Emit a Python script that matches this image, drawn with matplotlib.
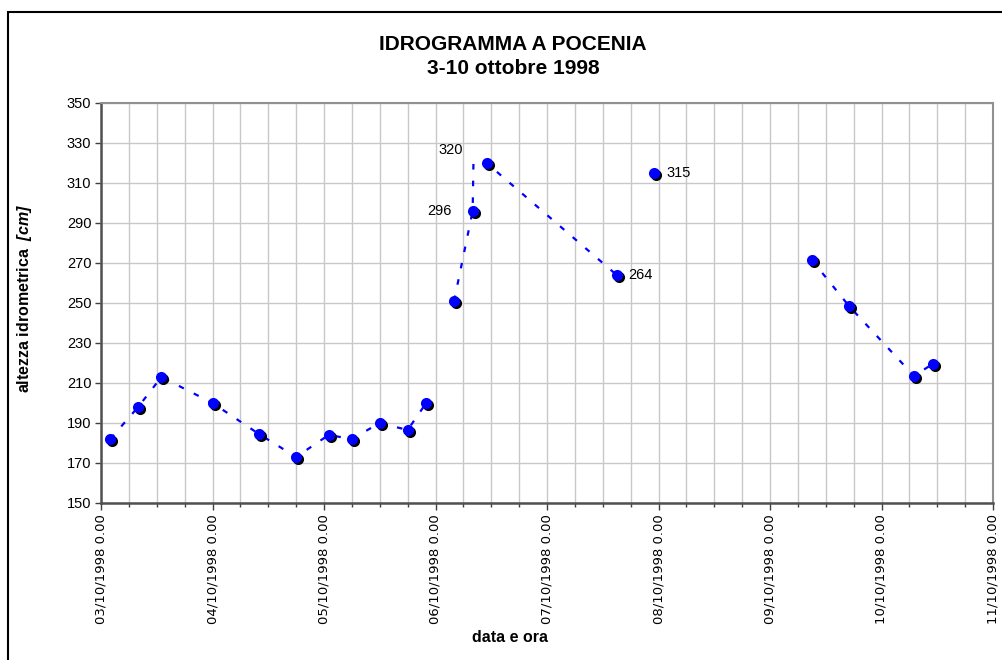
import datetime as dt
import matplotlib
matplotlib.use('Agg')
import matplotlib.pyplot as plt
import matplotlib.dates as mdates
import matplotlib.transforms as mtransforms
from matplotlib.patches import Rectangle

# letture idrometriche (data e ora, altezza in cm)
ore = ['03/10/1998 02:00', '03/10/1998 08:00', '03/10/1998 13:00', '04/10/1998 00:00',
       '04/10/1998 10:00', '04/10/1998 18:00', '05/10/1998 01:00', '05/10/1998 06:00',
       '05/10/1998 12:00', '05/10/1998 18:00', '05/10/1998 22:00', '06/10/1998 04:00',
       '06/10/1998 08:00', '06/10/1998 11:00', '07/10/1998 15:00', '07/10/1998 23:00',
       '09/10/1998 09:00', '09/10/1998 17:00', '10/10/1998 07:00', '10/10/1998 11:00']
livelli = [182, 198, 213, 200, 184.5, 173, 184, 182, 190, 186.5, 200, 251,
           296, 320, 264, 315, 271.5, 248.5, 213.5, 219.5]

# linea tratteggiata (None = interruzione)
linea_ore = ['03/10/1998 02:00', '03/10/1998 08:00', '03/10/1998 13:00', '04/10/1998 00:00',
             '04/10/1998 10:00', '04/10/1998 18:00', '05/10/1998 01:00', '05/10/1998 06:00',
             '05/10/1998 12:00', '05/10/1998 18:00', '05/10/1998 22:00', None,
             '06/10/1998 04:00', '06/10/1998 08:00', '06/10/1998 08:10', '06/10/1998 11:00',
             '07/10/1998 15:00', None,
             '09/10/1998 09:00', '09/10/1998 17:00', '10/10/1998 07:00', '10/10/1998 11:00']
linea_livelli = [182, 198, 213, 200, 184.5, 173, 184, 182, 190, 186.5, 200, None,
                 251, 296, 320, 320, 264, None, 271.5, 248.5, 213.5, 219.5]

# punti con etichetta
etichette = [13, 12, 14, 15]

fmt = '%d/%m/%Y %H:%M'
t = [dt.datetime.strptime(s, fmt) for s in ore]
lt = [mdates.date2num(dt.datetime.strptime(s, fmt)) if s else float('nan') for s in linea_ore]
lv = [v if v is not None else float('nan') for v in linea_livelli]

plt.rcParams['font.family'] = ['Liberation Sans', 'DejaVu Sans']
plt.rcParams['mathtext.fontset'] = 'custom'
plt.rcParams['mathtext.bfit'] = 'Liberation Sans:italic:bold'
plt.rcParams['mathtext.rm'] = 'Liberation Sans:bold'

fig = plt.figure(figsize=(10.03, 6.6), dpi=100)
ax = fig.add_axes([101/1003, 1-503/660, (993-101)/1003, (503-103)/660])

ax.plot(lt, lv, color='#0000ff', lw=1.6, dashes=(2.5, 5), zorder=3)
ombra = mtransforms.offset_copy(ax.transData, fig=fig, x=2, y=-2, units='dots')
ax.plot(t, livelli, 'o', color='black', ms=8, mec='none', transform=ombra, zorder=4)
ax.plot(t, livelli, 'o', color='#0000ff', ms=8, mec='none', zorder=5)

spost = {13: (-24, 13, 'right'), 12: (-21, 0, 'right'), 14: (12, 0, 'left'), 15: (13, 0, 'left')}
for i in etichette:
    dx, dy, ha = spost[i]
    ax.annotate('%d' % round(livelli[i]), (t[i], livelli[i]), xytext=(dx, dy),
                textcoords='offset pixels', ha=ha, va='center', fontsize=10.5)

ax.set_xlim(dt.datetime(1998, 10, 3), dt.datetime(1998, 10, 11))
ax.set_ylim(150, 350)
ax.set_yticks(range(150, 351, 20))
ax.xaxis.set_major_locator(mdates.DayLocator())
ax.xaxis.set_minor_locator(mdates.HourLocator(byhour=[6, 12, 18]))

def etich_data(x, pos):
    d = mdates.num2date(x)
    return f"{d:%d/%m/%Y} {d.hour}.{d.minute:02d}"

ax.xaxis.set_major_formatter(plt.FuncFormatter(etich_data))
for lab in ax.get_xticklabels():
    lab.set_family('DejaVu Sans')
ax.tick_params(axis='x', which='major', rotation=90, labelsize=9.5, length=5, width=1, pad=3,
               color='#404040')
ax.tick_params(axis='x', which='minor', length=3, width=1, color='#404040')
ax.tick_params(axis='y', labelsize=10.5, length=4, width=1, pad=3, color='#404040')

ax.grid(True, which='both', color='#c8c8c8', lw=1)
ax.set_axisbelow(True)
for s in ['left', 'bottom']:
    ax.spines[s].set_color('#505050')
    ax.spines[s].set_linewidth(1.8)
for s in ['top', 'right']:
    ax.spines[s].set_color('#909090')
    ax.spines[s].set_linewidth(1.5)

fig.text(25/1003, 1-298/660, 'altezza idrometrica  $\\mathbfit{[cm]}$', rotation=90,
         ha='center', va='center', fontsize=11.5, fontweight='bold')
fig.text(510/1003, 1-638/660, 'data e ora', ha='center', va='center',
         fontsize=11.5, fontweight='bold')
fig.text(513/1003, 1-44/660, 'IDROGRAMMA A POCENIA', ha='center', va='center',
         fontsize=15, fontweight='bold')
fig.text(513/1003, 1-69/660, '3-10 ottobre 1998', ha='center', va='center',
         fontsize=15, fontweight='bold')

fig.patches.append(Rectangle((8/1003, -0.1), 1.2, 1.1 - 12/660, transform=fig.transFigure,
                             fill=False, ec='black', lw=1.5))

fig.savefig('out.png', dpi=100)
